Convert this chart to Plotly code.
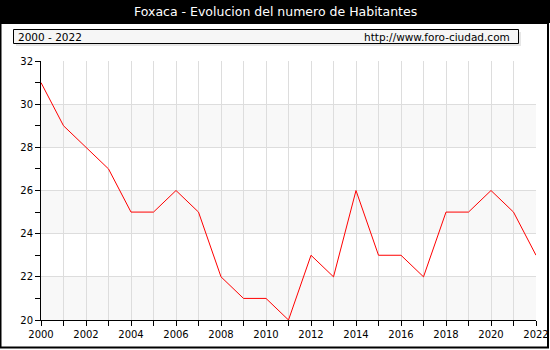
import plotly.graph_objects as go

# Population of Foxaca by year
years = list(range(2000, 2023))
habitantes = [31, 29, 28, 27, 25, 25, 26, 25, 22, 21, 21, 20,
              23, 22, 26, 23, 23, 22, 25, 25, 26, 25, 23]

title_text = "Foxaca - Evolucion del numero de Habitantes"
period_text = "2000 - 2022"
site_text = "http://www.foro-ciudad.com"

W, H = 550, 350
ML, MR, MT, MB = 41, 14, 61, 30
PW, PH = W - ML - MR, H - MT - MB


def px(x):
    return (x - ML) / PW


def py(y):
    return (H - MB - y) / PH


FONT = "DejaVu Sans"

fig = go.Figure()
fig.add_trace(go.Scatter(x=years, y=habitantes, mode="lines",
                         line=dict(color="#ff0000", width=1),
                         hoverinfo="x+y", showlegend=False))

shapes = []
# alternating light bands
for lo in (20, 24, 28):
    shapes.append(dict(type="rect", xref="paper", yref="y", x0=0, x1=1,
                       y0=lo, y1=lo + 2, fillcolor="#f8f8f8",
                       line=dict(width=0), layer="below"))
# black title bar
shapes.append(dict(type="rect", xref="paper", yref="paper",
                   x0=px(-2), x1=px(W + 2), y0=py(23), y1=py(-2),
                   fillcolor="black", line=dict(width=0), layer="above"))
# outer frame
shapes.append(dict(type="rect", xref="paper", yref="paper",
                   x0=px(0.5), x1=px(548), y0=py(347.5), y1=py(23),
                   fillcolor="rgba(0,0,0,0)", line=dict(color="black", width=2)))
# header box shadow and box
shapes.append(dict(type="rect", xref="paper", yref="paper",
                   x0=px(16), x1=px(521), y0=py(46), y1=py(32),
                   fillcolor="#e6e6e6", line=dict(width=0)))
shapes.append(dict(type="rect", xref="paper", yref="paper",
                   x0=px(13.5), x1=px(518.5), y0=py(43.5), y1=py(29.5),
                   fillcolor="#f6f6f6", line=dict(color="black", width=1)))

annotations = [
    dict(text=title_text, xref="paper", yref="paper", x=px(275), y=py(12),
         xanchor="center", yanchor="middle", showarrow=False,
         font=dict(family=FONT, size=12.5, color="white")),
    dict(text=period_text, xref="paper", yref="paper", x=px(16), y=py(36.5),
         xanchor="left", yanchor="middle", showarrow=False,
         font=dict(family=FONT, size=10.5, color="black")),
    dict(text=site_text, xref="paper", yref="paper", x=px(512), y=py(36.5),
         xanchor="right", yanchor="middle", showarrow=False,
         font=dict(family=FONT, size=10.5, color="black")),
]

fig.update_layout(
    width=W, height=H, autosize=False,
    margin=dict(l=ML, r=MR, t=MT, b=MB, pad=0),
    paper_bgcolor="white", plot_bgcolor="white",
    font=dict(family=FONT, size=10, color="black"),
    shapes=shapes, annotations=annotations,
    xaxis=dict(range=[2000, 2022], dtick=2, tick0=2000, automargin=False,
               showgrid=True, gridcolor="#dddddd", gridwidth=1,
               ticks="outside", ticklen=5, tickcolor="black",
               showline=True, linecolor="black", linewidth=1,
               zeroline=False, fixedrange=True,
               minor=dict(dtick=1, tick0=2000, ticks="outside", ticklen=5,
                          tickcolor="black", showgrid=True,
                          gridcolor="#dddddd", gridwidth=1)),
    yaxis=dict(range=[20, 32], dtick=2, tick0=20, automargin=False,
               showgrid=True, gridcolor="#dddddd", gridwidth=1,
               ticks="outside", ticklen=5, tickcolor="black",
               showline=True, linecolor="black", linewidth=1,
               zeroline=False, fixedrange=True,
               minor=dict(dtick=1, tick0=20, ticks="outside", ticklen=5,
                          tickcolor="black", showgrid=False)),
)

fig.write_html("out.html", config={"responsive": False, "displayModeBar": False},
               post_script="document.body.style.margin='0';"
                           "document.body.style.overflow='hidden';")
